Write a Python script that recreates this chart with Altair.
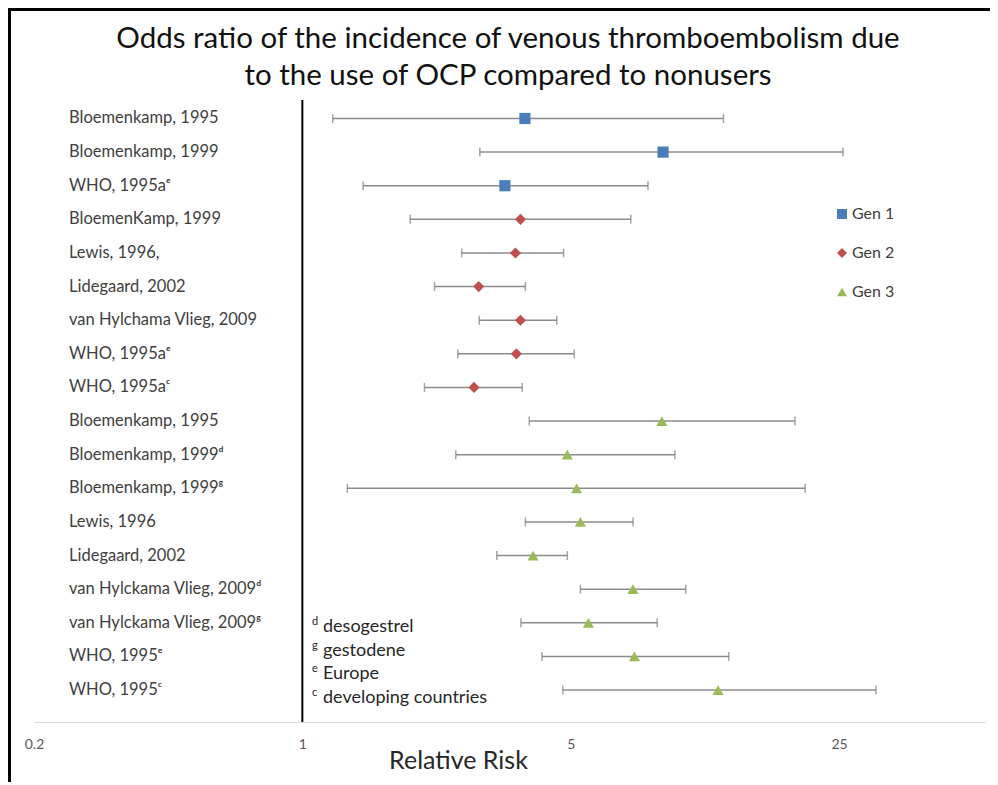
import altair as alt
import pandas as pd

labels = [
    "Bloemenkamp, 1995", "Bloemenkamp, 1999", "WHO, 1995a\u1d49",
    "BloemenKamp, 1999", "Lewis, 1996,", "Lidegaard, 2002",
    "van Hylchama Vlieg, 2009", "WHO, 1995a\u1d49", "WHO, 1995a\u1d9c",
    "Bloemenkamp, 1995", "Bloemenkamp, 1999\u1d48", "Bloemenkamp, 1999\u1d4d",
    "Lewis, 1996", "Lidegaard, 2002", "van Hylckama Vlieg, 2009\u1d48",
    "van Hylckama Vlieg, 2009\u1d4d", "WHO, 1995\u1d49", "WHO, 1995\u1d9c",
]
generation = ["Gen 1"] * 3 + ["Gen 2"] * 6 + ["Gen 3"] * 9
odds = [3.8, 8.7, 3.37, 3.70, 3.59, 2.88, 3.70, 3.61, 2.80,
        8.64, 4.90, 5.18, 5.30, 3.99, 7.26, 5.56, 7.33, 12.1]
low = [1.2, 2.9, 1.44, 1.91, 2.60, 2.21, 2.89, 2.54, 2.08,
       3.90, 2.51, 1.31, 3.81, 3.21, 5.30, 3.71, 4.21, 4.77]
high = [12.5, 25.6, 7.95, 7.17, 4.79, 3.81, 4.60, 5.11, 3.74,
        19.2, 9.34, 20.4, 7.27, 4.90, 9.97, 8.40, 12.9, 31.2]

footnote_marks = ["d", "g", "e", "c"]
footnote_texts = ["desogestrel", "gestodene", "Europe", "developing countries"]
title_lines = ["Odds ratio of the incidence of venous thromboembolism  due",
               "to the use of OCP compared to nonusers"]
x_ticks = [0.2, 1, 5, 25]

gen_names = ["Gen 1", "Gen 2", "Gen 3"]
gen_colors = ["#4A7EBB", "#C0504D", "#9BBB59"]
gen_shapes = ["square", "diamond", "triangle-up"]

df = pd.DataFrame({
    "idx": list(range(len(labels))),
    "label": labels,
    "gen": generation,
    "odds": odds,
    "low": low,
    "high": high,
})

W, H = 951, 622
FONT = "Lato"

xscale = alt.Scale(type="log", base=5, domain=[0.2, 60], nice=False)
yscale = alt.Scale(domain=[-0.55, 17.95], reverse=True, nice=False, zero=False)

xaxis = alt.Axis(values=x_ticks, format="~g", grid=False, ticks=False, tickSize=0,
                 domainColor="#d9d9d9", domainWidth=1.2, labelFlush=False,
                 labelFontSize=14, labelColor="#595959", labelFont=FONT, labelPadding=15,
                 title="Relative Risk", titleFontSize=25, titleFont=FONT,
                 titleFontWeight="normal", titleColor="#262626",
                 titleX=424, titleY=38, titleAlign="center", titleBaseline="middle")

base = alt.Chart(df)

bars = base.mark_rule(color="#8c8c8c", strokeWidth=1.5).encode(
    x=alt.X("low:Q", scale=xscale, axis=xaxis),
    x2="high:Q",
    y=alt.Y("idx:Q", scale=yscale, axis=None),
)
cap_lo = base.mark_tick(color="#7f7f7f", orient="vertical", size=9, thickness=1.5).encode(
    x="low:Q", y="idx:Q")
cap_hi = base.mark_tick(color="#7f7f7f", orient="vertical", size=9, thickness=1.5).encode(
    x="high:Q", y="idx:Q")

leg = alt.Legend(title=None, orient="none", legendX=800, legendY=106,
                 labelFontSize=16, labelFont=FONT, labelColor="#404040",
                 symbolSize=100, rowPadding=23, labelOffset=2, symbolStrokeWidth=0)

points = base.mark_point(filled=True, opacity=1, size=125).encode(
    x="odds:Q",
    y="idx:Q",
    color=alt.Color("gen:N", scale=alt.Scale(domain=gen_names, range=gen_colors), legend=leg),
    shape=alt.Shape("gen:N", scale=alt.Scale(domain=gen_names, range=gen_shapes), legend=leg),
)

text = base.mark_text(align="left", baseline="middle", fontSize=16.5, font=FONT,
                      color="#404040").encode(
    x=alt.value(35), y="idx:Q", text="label:N")

one_line = alt.Chart(pd.DataFrame({"v": [1]})).mark_rule(color="black", strokeWidth=2).encode(
    x="v:Q", y=alt.value(0), y2=alt.value(H))

notes = []
for i, (m, t) in enumerate(zip(footnote_marks, footnote_texts)):
    yy = 527 + i * 23.7
    notes.append(alt.Chart(pd.DataFrame({"t": [m]})).mark_text(
        align="left", baseline="middle", fontSize=11, font=FONT, color="#262626").encode(
        x=alt.value(278), y=alt.value(yy - 5), text="t:N"))
    notes.append(alt.Chart(pd.DataFrame({"t": [t]})).mark_text(
        align="left", baseline="middle", fontSize=18, font=FONT, color="#262626").encode(
        x=alt.value(289), y=alt.value(yy), text="t:N"))

titles = []
for i, t in enumerate(title_lines):
    titles.append(alt.Chart(pd.DataFrame({"t": [t]})).mark_text(
        align="center", baseline="middle", fontSize=29.5, font=FONT, color="#111111").encode(
        x=alt.value(474), y=alt.value(-61 + i * 37), text="t:N"))

frame_top = alt.Chart(pd.DataFrame({"a": [0]})).mark_rule(color="black", strokeWidth=3).encode(
    x=alt.value(-26), x2=alt.value(W + 5), y=alt.value(-90.5))
frame_left = alt.Chart(pd.DataFrame({"a": [0]})).mark_rule(color="black", strokeWidth=3).encode(
    x=alt.value(-24.5), y=alt.value(-92), y2=alt.value(H + 60))

chart = alt.layer(bars, cap_lo, cap_hi, one_line, points, text, *notes, *titles,
                  frame_top, frame_left).properties(
    width=W, height=H,
    background="white",
    autosize=alt.AutoSizeParams(type="none"),
    padding={"left": 26, "top": 92, "right": 5, "bottom": 60},
).configure_view(stroke=None)

chart.save("out.html", embed_options={"renderer": "svg", "actions": False})
